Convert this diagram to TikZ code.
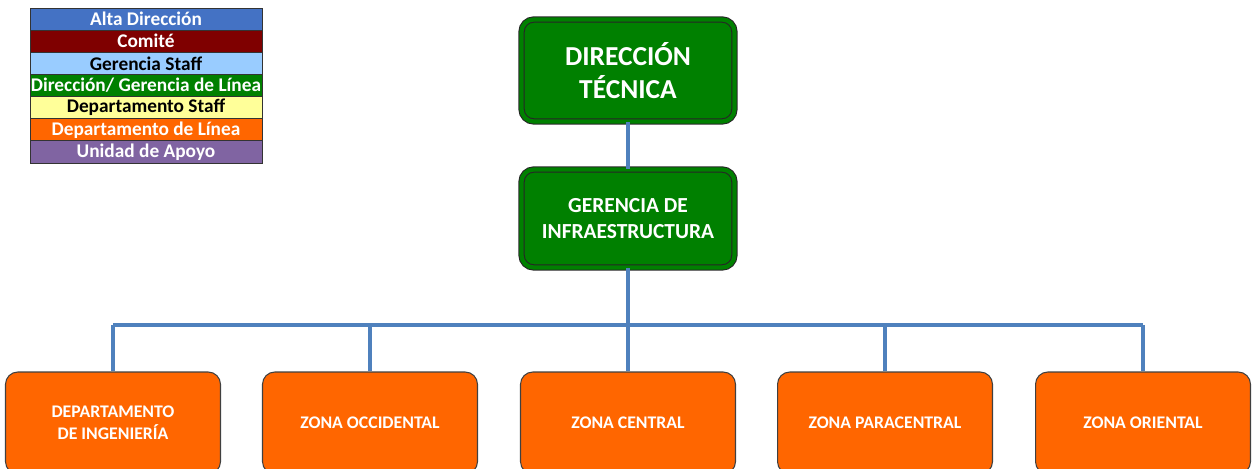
\documentclass[tikz,border=0pt]{standalone}
\usepackage{fontspec}
\setmainfont{Carlito}
\definecolor{altadir}{HTML}{4472C4}
\definecolor{comite}{HTML}{7F0000}
\definecolor{gerstaff}{HTML}{99CCFF}
\definecolor{dirlinea}{HTML}{008000}
\definecolor{depstaff}{HTML}{FFFF99}
\definecolor{deplinea}{HTML}{FF6600}
\definecolor{apoyo}{HTML}{8064A2}
\definecolor{conector}{HTML}{4F81BD}
\tikzset{
  leyenda/.style={draw=black!80,line width=.5pt,minimum width=4.64cm,minimum height=.443cm,inner sep=0pt,font=\fontsize{11}{12}\selectfont\bfseries},
  direccion/.style={draw=black!85,line width=.6pt,double=dirlinea,double distance=2.4pt,fill=dirlinea,rounded corners=7pt,text=white,align=center,minimum width=4.26cm,inner sep=0pt},
  departamento/.style={draw=black!75,line width=.6pt,fill=deplinea,rounded corners=7pt,text=white,align=center,minimum width=4.3cm,minimum height=2.04cm,inner sep=0pt,font=\fontsize{10.1}{12.5}\selectfont\bfseries},
  linea/.style={draw=conector,line width=2pt}
}
\begin{document}
\begin{tikzpicture}[x=0.02cm,y=-0.02cm]
            \useasboundingbox (0,0) rectangle (1252,469);
            % leyenda
            \foreach \i/\c/\t/\l in {0/altadir/white/{Alta Dirección},1/comite/white/{Comité},2/gerstaff/black/{Gerencia Staff},3/dirlinea/white/{Dirección/ Gerencia de Línea},4/depstaff/black/{Departamento Staff},5/deplinea/white/{Departamento de Línea},6/apoyo/white/{Unidad de Apoyo}}{
                \node[leyenda,fill=\c,text=\t] at (146,19.07+22.14*\i)(ley\i){\l};
            }
            \node[direccion,minimum height=2.04cm,font=\fontsize{15.6}{18.7}\selectfont\bfseries] at (628,70.5)(dir){DIRECCIÓN\\TÉCNICA};
            \node[direccion,minimum height=1.96cm,font=\fontsize{12.2}{14.7}\selectfont\bfseries] at (628,218.5)(ger){GERENCIA DE\\INFRAESTRUCTURA};
            \coordinate (bus) at (628,325);
            \foreach \x/\n/\l in {113/z1/{DEPARTAMENTO\\DE INGENIERÍA},370/z2/{ZONA OCCIDENTAL},628/z3/{ZONA CENTRAL},885/z4/{ZONA PARACENTRAL},1143/z5/{ZONA ORIENTAL}}{
                \node[departamento] at (\x,423)(\n){\l};
                \path[linea] (\n.north) -- (\n.north |- bus);
            }
            \path[linea] (dir) -- (ger);
            \path[linea] (ger) -- (bus);
            \path[linea] (z1.north |- bus) -- (z5.north |- bus);
        \end{tikzpicture}
\end{document}
